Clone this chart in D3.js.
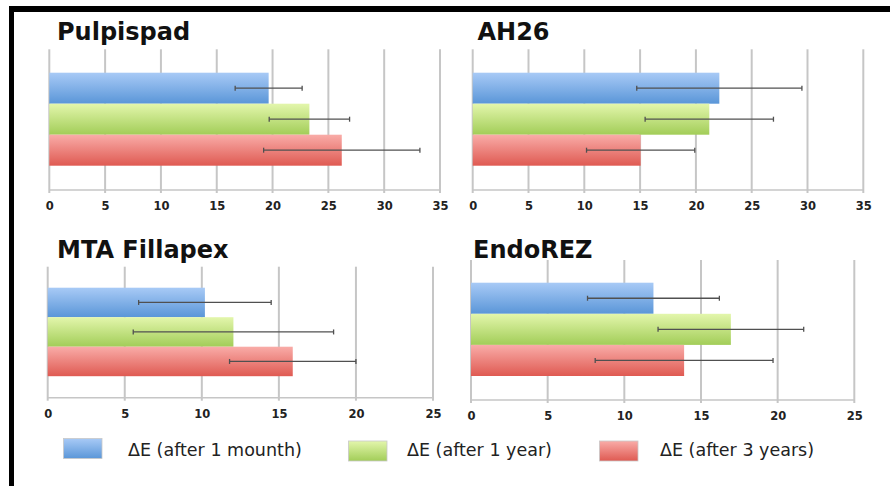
<!DOCTYPE html>
<html><head><meta charset="utf-8">
<script src="https://cdn.jsdelivr.net/npm/d3@7"></script>
<style>html,body{margin:0;padding:0;background:#fff;}svg{display:block;}</style>
</head><body>
<script>
// ---- data ----
const panels = ["Pulpispad", "AH26", "MTA Fillapex", "EndoREZ"];
const seriesNames = ["ΔE (after 1 mounth)", "ΔE (after 1 year)", "ΔE (after 3 years)"];
const mean1Month = [19.65, 22.1, 10.2, 11.9];
const mean1Year  = [23.3, 21.2, 12.05, 16.95];
const mean3Years = [26.2, 15.05, 15.9, 13.9];
const sd1Month = [3.0, 7.4, 4.3, 4.3];
const sd1Year  = [3.6, 5.75, 6.5, 4.75];
const sd3Years = [7.0, 4.85, 4.1, 5.8];
const axisMax = [35, 35, 25, 25];
const tickStep = 5;

// ---- layout ----
const W = 890, H = 486;
const FONT = "DejaVu Sans, Verdana, sans-serif";
const layout = [
  {x0: 49.3, x1: 440, gridTop: 49.3, axisY: 190, barTop: 72.7, band: 31, tx: 57, ty: 40},
  {x0: 472.7, x1: 863.3, gridTop: 49.3, axisY: 190, barTop: 72.7, band: 31, tx: 477.5, ty: 40},
  {x0: 47.7, x1: 433, gridTop: 266.7, axisY: 397.7, barTop: 287.7, band: 29.5, tx: 57, ty: 258},
  {x0: 471, x1: 854.3, gridTop: 260, axisY: 400, barTop: 282.7, band: 31.1, tx: 473, ty: 258}
];
const colorsTop = ["#a8caf6", "#e3f6ac", "#f9aca8"];
const colorsBot = ["#5a96d8", "#a2cd58", "#df5a52"];
const means = [mean1Month, mean1Year, mean3Years];
const sds = [sd1Month, sd1Year, sd3Years];

const svg = d3.select("body").append("svg").attr("width", W).attr("height", H);
const defs = svg.append("defs");
colorsTop.forEach((c, i) => {
  const g = defs.append("linearGradient").attr("id", "g" + i)
    .attr("x1", 0).attr("y1", 0).attr("x2", 0).attr("y2", 1);
  g.append("stop").attr("offset", "0%").attr("stop-color", c);
  g.append("stop").attr("offset", "100%").attr("stop-color", colorsBot[i]);
});

svg.append("rect").attr("width", W).attr("height", H).attr("fill", "#fff");
// frame
svg.append("rect").attr("x", 9).attr("y", 6).attr("width", W).attr("height", 6).attr("fill", "#000");
svg.append("rect").attr("x", 9).attr("y", 6).attr("width", 5).attr("height", H).attr("fill", "#000");

panels.forEach((name, p) => {
  const L = layout[p];
  const g = svg.append("g");
  const x = d3.scaleLinear().domain([0, axisMax[p]]).range([L.x0, L.x1]);
  const y = d3.scaleBand().domain(d3.range(3)).range([L.barTop, L.barTop + 3 * L.band]).padding(0);
  const ticks = d3.range(0, axisMax[p] + 0.001, tickStep);

  // gridlines
  g.selectAll(".grid").data(ticks).join("line")
    .attr("x1", d => x(d)).attr("x2", d => x(d))
    .attr("y1", L.gridTop).attr("y2", L.axisY + 3)
    .attr("stroke", "#c6c6c6").attr("stroke-width", 2);
  // axis line
  g.append("line").attr("x1", L.x0).attr("x2", L.x1).attr("y1", L.axisY).attr("y2", L.axisY)
    .attr("stroke", "#c6c6c6").attr("stroke-width", 1.5);

  const axis = d3.axisBottom(x).tickValues(ticks).tickSize(0).tickPadding(0).tickFormat(d3.format("d"));
  const ag = g.append("g").attr("transform", `translate(0,${L.axisY + 12})`).call(axis);
  ag.select(".domain").remove();
  ag.selectAll("text").attr("font-family", FONT).attr("font-weight", "bold")
    .attr("font-size", 11.5).attr("fill", "#222").attr("dy", "0.71em");

  // bars
  d3.range(3).forEach(s => {
    const v = means[s][p], e = sds[s][p];
    g.append("rect").attr("x", x(0)).attr("y", y(s)).attr("width", x(v) - x(0)).attr("height", y.bandwidth())
      .attr("fill", `url(#g${s})`);
    const cy = y(s) + y.bandwidth() / 2;
    g.append("line").attr("x1", x(v - e)).attr("x2", x(v + e)).attr("y1", cy).attr("y2", cy)
      .attr("stroke", "#505050").attr("stroke-width", 1.3);
    [v - e, v + e].forEach(t => g.append("line").attr("x1", x(t)).attr("x2", x(t))
      .attr("y1", cy - 2.5).attr("y2", cy + 2.5).attr("stroke", "#505050").attr("stroke-width", 1.3));
  });

  g.append("text").attr("x", L.tx).attr("y", L.ty).text(name)
    .attr("font-family", FONT).attr("font-weight", "bold")
    .attr("font-size", 24).attr("fill", "#111");
});

// legend
const legend = [
  {sx: 63.5, sy: 438.5, tx: 128},
  {sx: 348.5, sy: 441, tx: 407},
  {sx: 599.5, sy: 441, tx: 660}
];
seriesNames.forEach((n, i) => {
  const l = legend[i];
  svg.append("rect").attr("x", l.sx).attr("y", l.sy).attr("width", 38.5).attr("height", 20)
    .attr("fill", `url(#g${i})`).attr("stroke", "#c8c8c8").attr("stroke-width", 0.8);
  svg.append("text").attr("x", l.tx).attr("y", 456).text(n)
    .attr("font-family", FONT).attr("font-size", 17.5).attr("fill", "#222");
});
</script>
</body></html>
